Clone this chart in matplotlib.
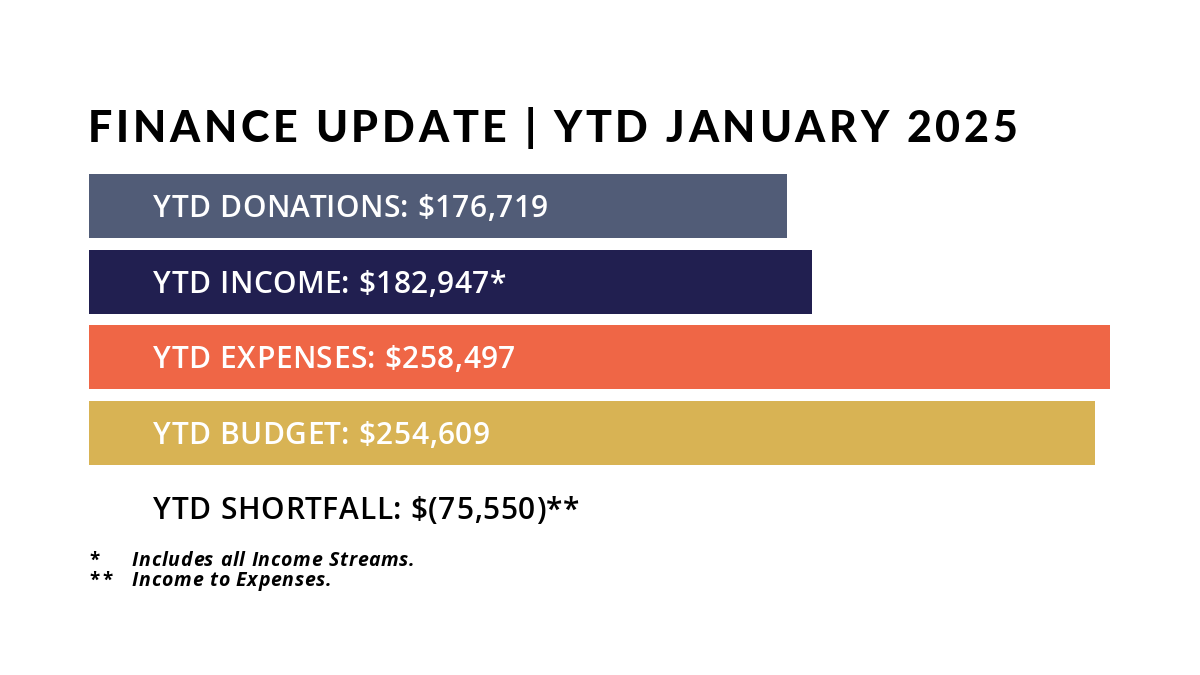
import matplotlib
matplotlib.use("Agg")
import matplotlib.pyplot as plt

categories = ["YTD DONATIONS", "YTD INCOME", "YTD EXPENSES", "YTD BUDGET"]
values = [176719, 182947, 258497, 254609]
suffixes = ["", "*", "", ""]
colors = ["#515c77", "#211f50", "#ef6646", "#d8b354"]
shortfall = -75550
title = "FINANCE UPDATE | YTD JANUARY 2025"
footnotes = [("*", "Includes all Income Streams."), ("**", "Income to Expenses.")]

W, H = 1200, 675
fig = plt.figure(figsize=(12, 6.75), dpi=100)
fig.patch.set_facecolor("white")
renderer = fig.canvas.get_renderer()

left = 89 / W
right = 1110 / W
top_px = 168
bot_px = 471
ax = fig.add_axes([left, 1 - bot_px / H, right - left, (bot_px - top_px) / H])
ax.set_xlim(0, max(values))
ax.set_ylim(len(values) - 0.5, -0.5)
ax.axis("off")

ypos = list(range(len(values)))
ax.barh(ypos, values, height=0.845, color=colors, left=0)


def tracked_text(x_px, base_px, s, track_px, **kw):
    """Draw text with letter spacing; x in pixels, baseline in pixels from top."""
    def width(t):
        if not t:
            return 0.0
        probe = fig.text(0, 0, t + "x", **kw)
        w1 = probe.get_window_extent(renderer).width
        probe.remove()
        probe = fig.text(0, 0, "x", **kw)
        w2 = probe.get_window_extent(renderer).width
        probe.remove()
        return w1 - w2
    for i, ch in enumerate(s):
        if ch == " ":
            continue
        x = x_px + width(s[:i]) + i * track_px
        fig.text(x / W, 1 - base_px / H, ch, va="baseline", ha="left", **kw)


label_kw = dict(fontsize=21.5, fontweight="semibold", family="Open Sans")
fig.canvas.draw()
for y, cat, v, s in zip(ypos, categories, values, suffixes):
    _, yc = ax.transData.transform((0, y))
    center_px = H - yc
    tracked_text(153, center_px + 11, f"{cat}: ${v:,}{s}", 0.5,
                 color="white", **label_kw)

tracked_text(153, 519, f"YTD SHORTFALL: $({abs(shortfall):,})**", 0.7,
             color="black", **label_kw)

tracked_text(88, 142, title, 3.75, color="black", fontsize=31,
             fontweight="black", family="Lato")

for i, (mark, note) in enumerate(footnotes):
    base = 566 + 20 * i
    tracked_text(89, base, mark, 3.0, color="black", fontsize=13.5,
                 fontweight="bold", family="Open Sans")
    tracked_text(132, base, note, 0.7, color="black", fontsize=14,
                 fontweight="bold", style="italic", family="Open Sans")

fig.savefig("out.png", dpi=100, facecolor="white")
